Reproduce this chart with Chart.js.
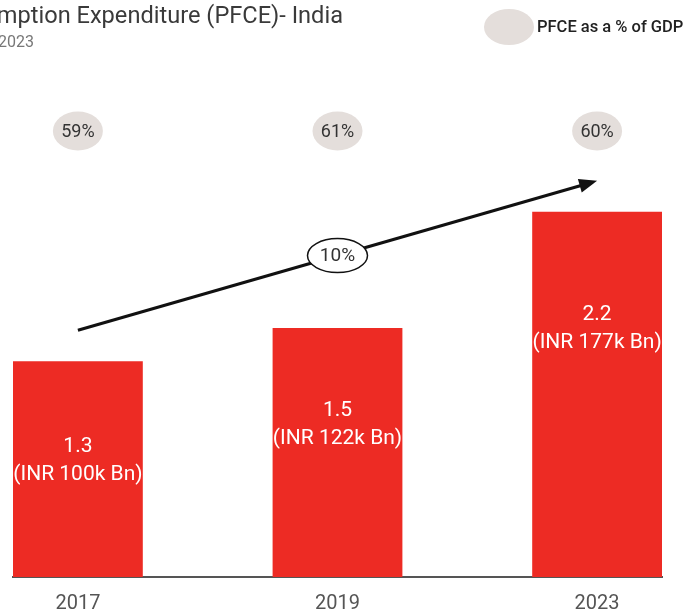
<!DOCTYPE html>
<html>
<head>
<meta charset="utf-8">
<script src="https://cdn.jsdelivr.net/npm/chart.js@4"></script>
<style>
  html, body { margin: 0; padding: 0; background: #fff; }
  canvas { display: block; }
</style>
</head>
<body>
<canvas id="graficoPfce" width="689" height="613"></canvas>
<script>
// Datos del gráfico
const years = ['2017', '2019', '2023'];
const pfceUsdTn = [1.3, 1.5, 2.2];
const pfceInr = ['(INR 100k Bn)', '(INR 122k Bn)', '(INR 177k Bn)'];
const pfceGdpPct = ['59%', '61%', '60%'];
const cagrLabel = '10%';
const titulo = 'Private Final Consumption Expenditure (PFCE)- India';
const subtitulo = '2017-2023';
const leyenda = 'PFCE as a % of GDP';

const ROJO = '#ED2B24';
const GRIS = '#E4DEDB';

function elipse(ctx, x, y, rx, ry) {
    ctx.beginPath();
    ctx.ellipse(x, y, rx, ry, 0, 0, Math.PI * 2);
}

// Plugin que dibuja título, leyenda, óvalos de % PIB, flecha CAGR y etiquetas de barras
const decoraciones = {
    id: 'decoraciones',
    afterDatasetsDraw(chart, args, opts) {
        const ctx = chart.ctx;
        const meta = chart.getDatasetMeta(0);
        ctx.save();

        // Título (recortado a la izquierda como en el original)
        ctx.fillStyle = '#3a3a3a';
        ctx.font = '23.6px Roboto';
        ctx.textAlign = 'right';
        ctx.textBaseline = 'middle';
        ctx.fillText(titulo, 343, 17);
        ctx.fillStyle = '#777';
        ctx.font = '16px Roboto';
        ctx.fillText(subtitulo, 34, 43);

        // Leyenda
        ctx.fillStyle = GRIS;
        elipse(ctx, 509, 27, 25, 18);
        ctx.fill();
        ctx.fillStyle = '#222';
        ctx.font = '500 16.5px Roboto';
        ctx.textAlign = 'left';
        ctx.fillText(leyenda, 537, 28);

        // Óvalos con el % del PIB
        ctx.font = '18px Roboto';
        ctx.textAlign = 'center';
        meta.data.forEach((bar, i) => {
            ctx.fillStyle = GRIS;
            elipse(ctx, bar.x, 131, 25, 19.5);
            ctx.fill();
            ctx.fillStyle = '#333';
            ctx.fillText(pfceGdpPct[i], bar.x, 132);
        });

        // Flecha de crecimiento
        const a = meta.data[0], b = meta.data[meta.data.length - 1];
        const x1 = a.x, y1 = a.y - 31, x2 = b.x, y2 = b.y - 31;
        const ang = Math.atan2(y2 - y1, x2 - x1);
        ctx.strokeStyle = '#111';
        ctx.lineWidth = 3;
        ctx.beginPath();
        ctx.moveTo(x1, y1);
        ctx.lineTo(x2 - 14 * Math.cos(ang), y2 - 14 * Math.sin(ang));
        ctx.stroke();
        ctx.fillStyle = '#111';
        ctx.beginPath();
        ctx.moveTo(x2, y2);
        ctx.lineTo(x2 - 18 * Math.cos(ang) + 7 * Math.sin(ang), y2 - 18 * Math.sin(ang) - 7 * Math.cos(ang));
        ctx.lineTo(x2 - 18 * Math.cos(ang) - 7 * Math.sin(ang), y2 - 18 * Math.sin(ang) + 7 * Math.cos(ang));
        ctx.closePath();
        ctx.fill();

        const mx = chart.scales.x.getPixelForValue(1);
        const my = y1 + (y2 - y1) * (mx - x1) / (x2 - x1);
        elipse(ctx, mx, my, 30, 17);
        ctx.fillStyle = '#fff';
        ctx.fill();
        ctx.lineWidth = 1.5;
        ctx.stroke();
        ctx.fillStyle = '#333';
        ctx.font = '19px Roboto';
        ctx.fillText(cagrLabel, mx, my + 1);

        // Etiquetas dentro de las barras
        ctx.fillStyle = '#fff';
        ctx.font = '21px Roboto';
        meta.data.forEach((bar, i) => {
            const cy = bar.base - (bar.base - bar.y) * opts.posEtiqueta[i];
            ctx.fillText(String(pfceUsdTn[i]), bar.x, cy - 14);
            ctx.fillText(pfceInr[i], bar.x, cy + 14);
        });

        ctx.restore();
    }
};

function crearGrafico() {
    const ctx = document.getElementById('graficoPfce').getContext('2d');

    new Chart(ctx, {
        type: 'bar',
        data: {
            datasets: [{
                label: 'PFCE (USD Tn)',
                data: pfceUsdTn.map((v, i) => ({ x: i, y: v })),
                backgroundColor: ROJO,
                categoryPercentage: 0.5,
                barPercentage: 1
            }]
        },
        options: {
            responsive: false,
            animation: false,
            layout: { padding: { left: 13, right: 27, top: 60, bottom: 0 } },
            plugins: {
                legend: { display: false },
                tooltip: { enabled: false },
                decoraciones: { posEtiqueta: [0.54, 0.61, 0.68] }
            },
            scales: {
                x: {
                    type: 'linear',
                    offset: false,
                    min: -0.25,
                    max: 2.25,
                    afterBuildTicks: (scale) => {
                        scale.ticks = years.map((_, i) => ({ value: i }));
                    },
                    afterFit: (scale) => { scale.height = 36; },
                    ticks: {
                        autoSkip: false,
                        padding: 15,
                        color: '#555',
                        font: { family: 'Roboto', size: 20 },
                        callback: (v) => years[v]
                    },
                    grid: { color: 'transparent', drawTicks: false },
                    border: { display: true, color: '#555', width: 2 }
                },
                y: {
                    display: false,
                    min: 0,
                    max: 3.115
                }
            }
        },
        plugins: [decoraciones]
    });
}

crearGrafico();
</script>
</body>
</html>
